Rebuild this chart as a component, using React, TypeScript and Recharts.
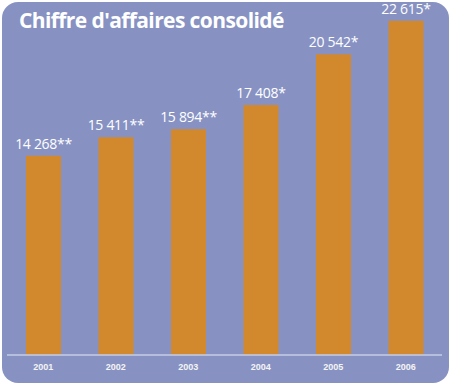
import React from "react";
import { BarChart, Bar, XAxis, YAxis, LabelList } from "recharts";

const years = ["2001", "2002", "2003", "2004", "2005", "2006"];
const revenue = [14268, 15411, 15894, 17408, 20542, 22615];
const valueLabels = ["14 268**", "15 411**", "15 894**", "17 408*", "20 542*", "22 615*"];
const title = "Chiffre d'affaires consolidé";

const data = years.map((y, i) => ({ year: y, value: revenue[i], label: valueLabels[i] }));

const BG = "#8792c3";
const BAR = "#d2882c";

const ValueLabel = (props: any) => {
  const { x, y, width, value } = props;
  return (
    <text
      x={Number(x) + Number(width) / 2}
      y={Number(y) - 7}
      textAnchor="middle"
      fill="#ffffff"
      style={{ fontFamily: "'Open Sans', sans-serif", fontSize: 14, letterSpacing: -0.3 }}
    >
      {value}
    </text>
  );
};

export default function App() {
  return (
    <div style={{ position: "absolute", left: 0, top: 0, width: 452, height: 390, background: "#ffffff" }}>
      <div
        style={{
          position: "absolute",
          left: 2,
          top: 2,
          width: 447,
          height: 381,
          borderRadius: 16,
          background: BG,
        }}
      />
      <div
        style={{
          position: "absolute",
          left: 19,
          top: 6,
          color: "#ffffff",
          fontFamily: "'Open Sans', sans-serif",
          fontWeight: 700,
          fontSize: 21,
          letterSpacing: -0.6,
          whiteSpace: "nowrap",
        }}
      >
        {title}
      </div>
      <div style={{ position: "absolute", left: 0, top: 0 }}>
        <BarChart width={452} height={390} data={data} margin={{ top: 20, right: 10, bottom: 0, left: 7 }}>
          <YAxis hide domain={[1935, 22660]} allowDataOverflow type="number" />
          <XAxis
            dataKey="year"
            height={35}
            axisLine={{ stroke: "#c6cce7", strokeWidth: 1.5 }}
            tickLine={false}
            tickMargin={3}
            tick={{ fill: "#f4f4f4", fontSize: 9, fontWeight: 700, fontFamily: "'Liberation Sans', Arial, sans-serif" }}
            interval={0}
          />
          <Bar dataKey="value" fill={BAR} barSize={35} isAnimationActive={false}>
            <LabelList dataKey="label" content={ValueLabel} />
          </Bar>
        </BarChart>
      </div>
    </div>
  );
}
